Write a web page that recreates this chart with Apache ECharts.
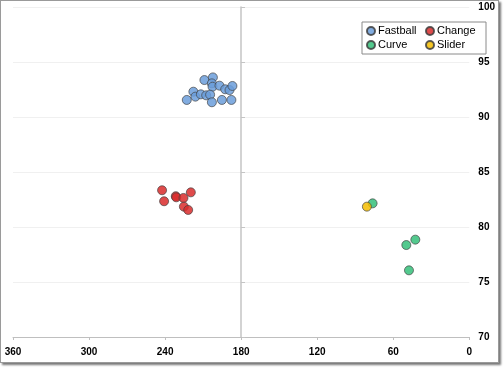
<!DOCTYPE html>
<html>
<head>
<meta charset="utf-8">
<script src="https://cdn.jsdelivr.net/npm/echarts@6/dist/echarts.min.js"></script>
<style>
html,body{margin:0;padding:0;background:#fff;}
#frame{position:absolute;left:0;top:0;width:497px;height:361px;border:1px solid #9a9a9a;box-shadow:2px 2px 2px #777;background:#fff;}
#chart{width:497px;height:361px;}
</style>
</head>
<body>
<div id="frame"><div id="chart"></div></div>
<script>
// Pitch data: [angle (deg), speed (mph)]
const fastball = [
  [209.0, 93.36], [202.3, 93.6], [203.1, 93.06], [202.6, 92.75], [197.1, 92.85],
  [192.6, 92.52], [189.2, 92.45], [186.9, 92.82], [217.7, 92.3], [216.1, 91.85],
  [211.8, 92.06], [207.6, 91.97], [204.5, 92.03], [222.9, 91.55], [203.1, 91.34],
  [195.2, 91.55], [187.7, 91.55]
];
const change = [
  [242.4, 83.34], [240.8, 82.34], [231.6, 82.8], [231.2, 82.7], [225.5, 82.64],
  [219.7, 83.15], [225.2, 81.85], [221.8, 81.55]
];
const curve = [
  [76.3, 82.15], [49.7, 78.36], [42.6, 78.85], [47.6, 76.06]
];
const slider = [
  [80.8, 81.85]
];
const xTicks = { min: 0, max: 360, interval: 60 };
const yTicks = { min: 70, max: 100, interval: 5 };

const chart = echarts.init(document.getElementById('chart'));
const font = '"Liberation Sans", Arial, sans-serif';
function ser(name, data, color) {
  return {
    name: name, type: 'scatter', data: data, symbol: 'circle', symbolSize: 9,
    itemStyle: { color: color, borderColor: '#404040', borderWidth: 0.8, opacity: 0.85 },
    emphasis: { disabled: true }
  };
}
chart.setOption({
  animation: false,
  grid: { left: 12, right: 28, top: 6, bottom: 25 },
  legend: {
    left: 361, top: 21, width: 122,
    orient: 'horizontal',
    borderColor: '#8a8a8a', borderWidth: 1,
    padding: [3, 4, 3, 4],
    itemGap: 2, itemWidth: 8, itemHeight: 8,
    icon: 'circle',
    textStyle: { fontFamily: font, fontSize: 11, color: '#000', width: 45, lineHeight: 12, padding: [0, 0, 0, -2] },
    data: ['Fastball', 'Change', 'Curve', 'Slider']
  },
  xAxis: {
    type: 'value', inverse: true,
    min: xTicks.min, max: xTicks.max, interval: xTicks.interval,
    axisLine: { show: true, lineStyle: { color: '#bfbfbf', width: 1 } },
    axisTick: { show: true, length: 3, lineStyle: { color: '#bfbfbf' } },
    axisLabel: { fontFamily: font, fontSize: 10, fontWeight: 'bold', color: '#000', margin: 10 },
    splitLine: { show: false }
  },
  yAxis: [{
    type: 'value', position: 'right',
    min: yTicks.min, max: yTicks.max, interval: yTicks.interval,
    axisLine: { show: false }, axisTick: { show: false },
    axisLabel: { fontFamily: font, fontSize: 10, fontWeight: 'bold', color: '#000', margin: 9 },
    splitLine: { show: true, lineStyle: { color: '#f0f0f0', width: 1 } }
  }, {
    type: 'value', position: 'left', offset: -228,
    min: yTicks.min, max: yTicks.max, interval: yTicks.interval,
    axisLine: { show: true, lineStyle: { color: '#c4c4c4', width: 1.5 } },
    axisTick: { show: true, inside: true, length: 4, lineStyle: { color: '#c4c4c4' } },
    axisLabel: { show: false },
    splitLine: { show: false }
  }],
  series: [
    ser('Fastball', fastball, '#6b9ddb'),
    ser('Change', change, '#d92b2b'),
    ser('Curve', curve, '#35c07a'),
    ser('Slider', slider, '#f4bd00')
  ]
});
</script>
</body>
</html>
